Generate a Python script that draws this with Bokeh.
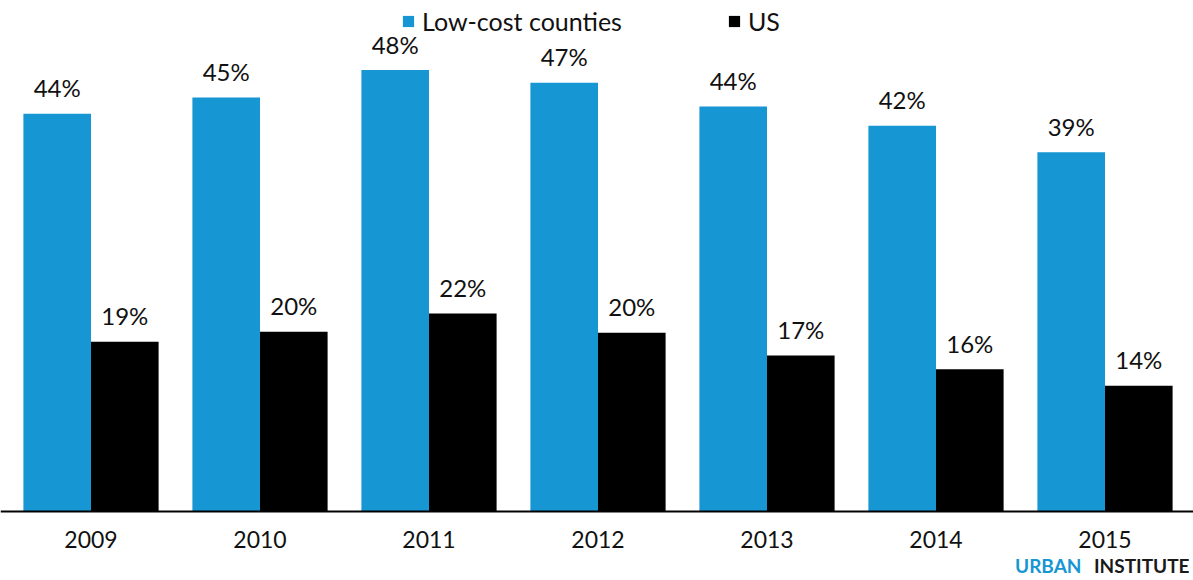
from bokeh.plotting import figure
from bokeh.models import (ColumnDataSource, Range1d, Legend, LegendItem, Span)
from bokeh.transform import dodge
from bokeh.core.properties import value
from bokeh.embed import file_html
from bokeh.resources import INLINE

years = ["2009", "2010", "2011", "2012", "2013", "2014", "2015"]
low_cost = [43.6, 45.4, 48.4, 47.0, 44.4, 42.3, 39.4]
us = [18.6, 19.7, 21.7, 19.6, 17.1, 15.6, 13.8]
series_names = ["Low-cost counties", "US"]

BLUE = "#1696d2"
BLACK = "#000000"
FONT = "Lato"

xs = list(range(len(years)))
src = ColumnDataSource(dict(
    x=xs,
    year=years,
    zero=[0] * len(xs),
    low=low_cost,
    us=us,
    low_lbl=[f"{v:.0f}%" for v in low_cost],
    us_lbl=[f"{v:.0f}%" for v in us],
))

W, H = 1193, 580
px_per_unit_x = 169.0
x_start = -90.5 / px_per_unit_x
x_end = x_start + W / px_per_unit_x
baseline_px = 511
px_per_unit_y = 9.12
y_end = baseline_px / px_per_unit_y
y_start = -(H - baseline_px) / px_per_unit_y

p = figure(width=W, height=H, output_backend="svg", toolbar_location=None,
           x_range=Range1d(x_start, x_end), y_range=Range1d(y_start, y_end),
           min_border_left=0, min_border_right=0, min_border_top=0,
           min_border_bottom=0)
p.outline_line_color = None
p.xgrid.visible = False
p.ygrid.visible = False
p.yaxis.visible = False
p.xaxis.visible = False
p.background_fill_color = "white"
p.border_fill_color = "white"

r1 = p.vbar(x=dodge("x", -0.2, range=p.x_range), top="low", width=0.4, source=src,
            fill_color=BLUE, line_color=None)
r2 = p.vbar(x=dodge("x", 0.2, range=p.x_range), top="us", width=0.4, source=src,
            fill_color=BLACK, line_color=None)

p.add_layout(Span(location=0, dimension="width", line_color="#000000", line_width=2))

p.text(x=dodge("x", -0.2, range=p.x_range), y="low", text="low_lbl", source=src,
       text_align="center", text_baseline="alphabetic", y_offset=-26,
       text_font=value(FONT), text_font_size="24px", text_color="#111111")
p.text(x=dodge("x", 0.2, range=p.x_range), y="us", text="us_lbl", source=src,
       text_align="center", text_baseline="alphabetic", y_offset=-26,
       text_font=value(FONT), text_font_size="24px", text_color="#111111")

# category (year) labels under the baseline
p.text(x="x", y="zero", text="year", source=src,
       text_align="center", text_baseline="alphabetic", y_offset=28,
       text_font=value(FONT), text_font_size="23px", text_color="#111111")

# branding
p.text(x=[x_end], y=[y_start], text=["INSTITUTE"], x_offset=-4, y_offset=-15,
       text_align="right", text_baseline="alphabetic",
       text_font=value(FONT), text_font_size="19px", text_font_style="bold",
       text_color="#1a1a1a")
p.text(x=[x_end], y=[y_start], text=["URBAN"], x_offset=-112, y_offset=-15,
       text_align="right", text_baseline="alphabetic",
       text_font=value(FONT), text_font_size="19px", text_font_style="bold",
       text_color=BLUE)

legend = Legend(items=[LegendItem(label=series_names[0], renderers=[r1]),
                       LegendItem(label=series_names[1], renderers=[r2])],
                orientation="horizontal", location=(401, H - 36),
                glyph_width=14, glyph_height=14, label_standoff=7, spacing=105,
                padding=0, margin=0, border_line_color=None,
                background_fill_alpha=0,
                label_text_font=FONT, label_text_font_size="25px",
                label_text_color="#111111")
p.add_layout(legend, "center")

open("out.html", "w").write(file_html(p, INLINE))
